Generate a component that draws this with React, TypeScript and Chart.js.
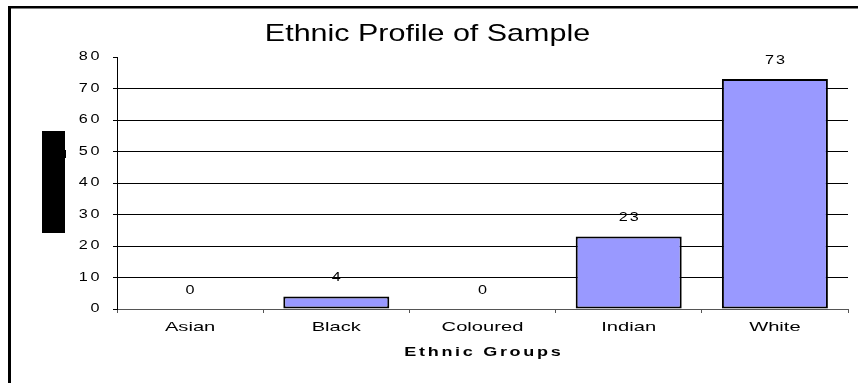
import React, { useEffect, useRef } from "react";
import { Chart, registerables } from "chart.js";

Chart.register(...registerables);

const categories = ["Asian", "Black", "Coloured", "Indian", "White"];
const values = [0, 4, 0, 23, 73];
const yTicks = [0, 10, 20, 30, 40, 50, 60, 70, 80];
const chartTitle = "Ethnic Profile of Sample";
const xAxisTitle = "Ethnic Groups";

const FONT = "'Liberation Sans', Arial, sans-serif";

function drawText(
  ctx: CanvasRenderingContext2D,
  text: string,
  x: number,
  y: number,
  font: string,
  sx: number,
  ls: number,
  align: "left" | "center" | "right"
) {
  ctx.save();
  ctx.font = font;
  (ctx as any).letterSpacing = ls + "px";
  ctx.textBaseline = "middle";
  ctx.textAlign = "left";
  const w = (ctx.measureText(text).width - ls) * sx;
  const x0 = align === "center" ? x - w / 2 : align === "right" ? x - w : x;
  ctx.translate(x0, y);
  ctx.scale(sx, 1);
  ctx.fillStyle = "#000";
  ctx.fillText(text, 0, 0);
  ctx.restore();
}

const decorPlugin = {
  id: "decor",
  afterDraw(chart: any) {
    const ctx: CanvasRenderingContext2D = chart.ctx;
    const area = chart.chartArea;
    // frame
    ctx.save();
    ctx.fillStyle = "#000";
    ctx.fillRect(8, 6, 858 - 8, 2.5);
    ctx.fillRect(8, 6, 3, 383 - 6);
    // redaction box
    ctx.fillRect(42, 131, 23, 102);
    ctx.fillRect(64, 150, 2, 8);
    ctx.restore();

    // title
    drawText(ctx, chartTitle, 427.5, 34, `24px ${FONT}`, 1.27, 0, "center");

    // y tick labels
    const ys = chart.scales.y;
    ys.ticks.forEach((t: any) => {
      const py = ys.getPixelForValue(t.value);
      drawText(ctx, String(t.value), 99.5, py, `12px ${FONT}`, 1.35, 2, "right");
    });

    // x tick labels
    const xs = chart.scales.x;
    categories.forEach((c, i) => {
      const px = xs.getPixelForValue(i);
      drawText(ctx, c, px, 327, `13px ${FONT}`, 1.55, 0, "center");
    });

    // x axis title
    drawText(
      ctx,
      xAxisTitle,
      (area.left + area.right) / 2,
      352.5,
      `bold 12px ${FONT}`,
      1.5,
      1.8,
      "center"
    );

    // data labels
    const meta = chart.getDatasetMeta(0);
    meta.data.forEach((bar: any, i: number) => {
      drawText(ctx, String(values[i]), bar.x, bar.y - 18.5, `12px ${FONT}`, 1.35, 1.5, "center");
    });
  },
};

export default function App() {
  const ref = useRef<HTMLCanvasElement | null>(null);

  useEffect(() => {
    if (!ref.current) return;
    const chart = new Chart(ref.current, {
      type: "bar",
      data: {
        labels: categories,
        datasets: [
          {
            data: values,
            backgroundColor: "#9999FF",
            borderColor: "#000000",
            borderWidth: 2,
            borderSkipped: false,
            categoryPercentage: 1,
            barPercentage: 0.725,
          },
        ],
      },
      options: {
        responsive: false,
        animation: false,
        layout: { padding: { top: 57, right: 10, bottom: 0, left: 0 } },
        plugins: {
          legend: { display: false },
          title: { display: false },
          tooltip: { enabled: false },
        },
        scales: {
          x: {
            type: "category",
            offset: true,
            ticks: { display: false },
            grid: {
              offset: true,
              drawOnChartArea: false,
              drawTicks: true,
              tickLength: 4,
              color: "#555555",
              tickColor: "#555555",
            },
            border: { display: true, color: "#555555", width: 1 },
            afterFit: (s: any) => {
              s.height = 383 - 309;
            },
          },
          y: {
            min: 0,
            max: 80,
            afterBuildTicks: (s: any) => {
              s.ticks = yTicks.map((v) => ({ value: v }));
            },
            ticks: { display: false, stepSize: 10 },
            grid: {
              drawTicks: true,
              tickLength: 4,
              color: (c: any) =>
                c.tick && (c.tick.value === 80 || c.tick.value === 0)
                  ? "rgba(0,0,0,0)"
                  : "#000000",
              tickColor: "#000000",
              lineWidth: 1,
            },
            border: { display: true, color: "#000000", width: 1 },
            afterFit: (s: any) => {
              s.width = 117;
            },
          },
        },
      },
      plugins: [decorPlugin],
    });
    return () => chart.destroy();
  }, []);

  return (
    <div style={{ position: "absolute", left: 0, top: 0, width: 858, height: 383, background: "#fff" }}>
      <canvas ref={ref} width={858} height={383} style={{ display: "block", width: 858, height: 383 }} />
    </div>
  );
}
